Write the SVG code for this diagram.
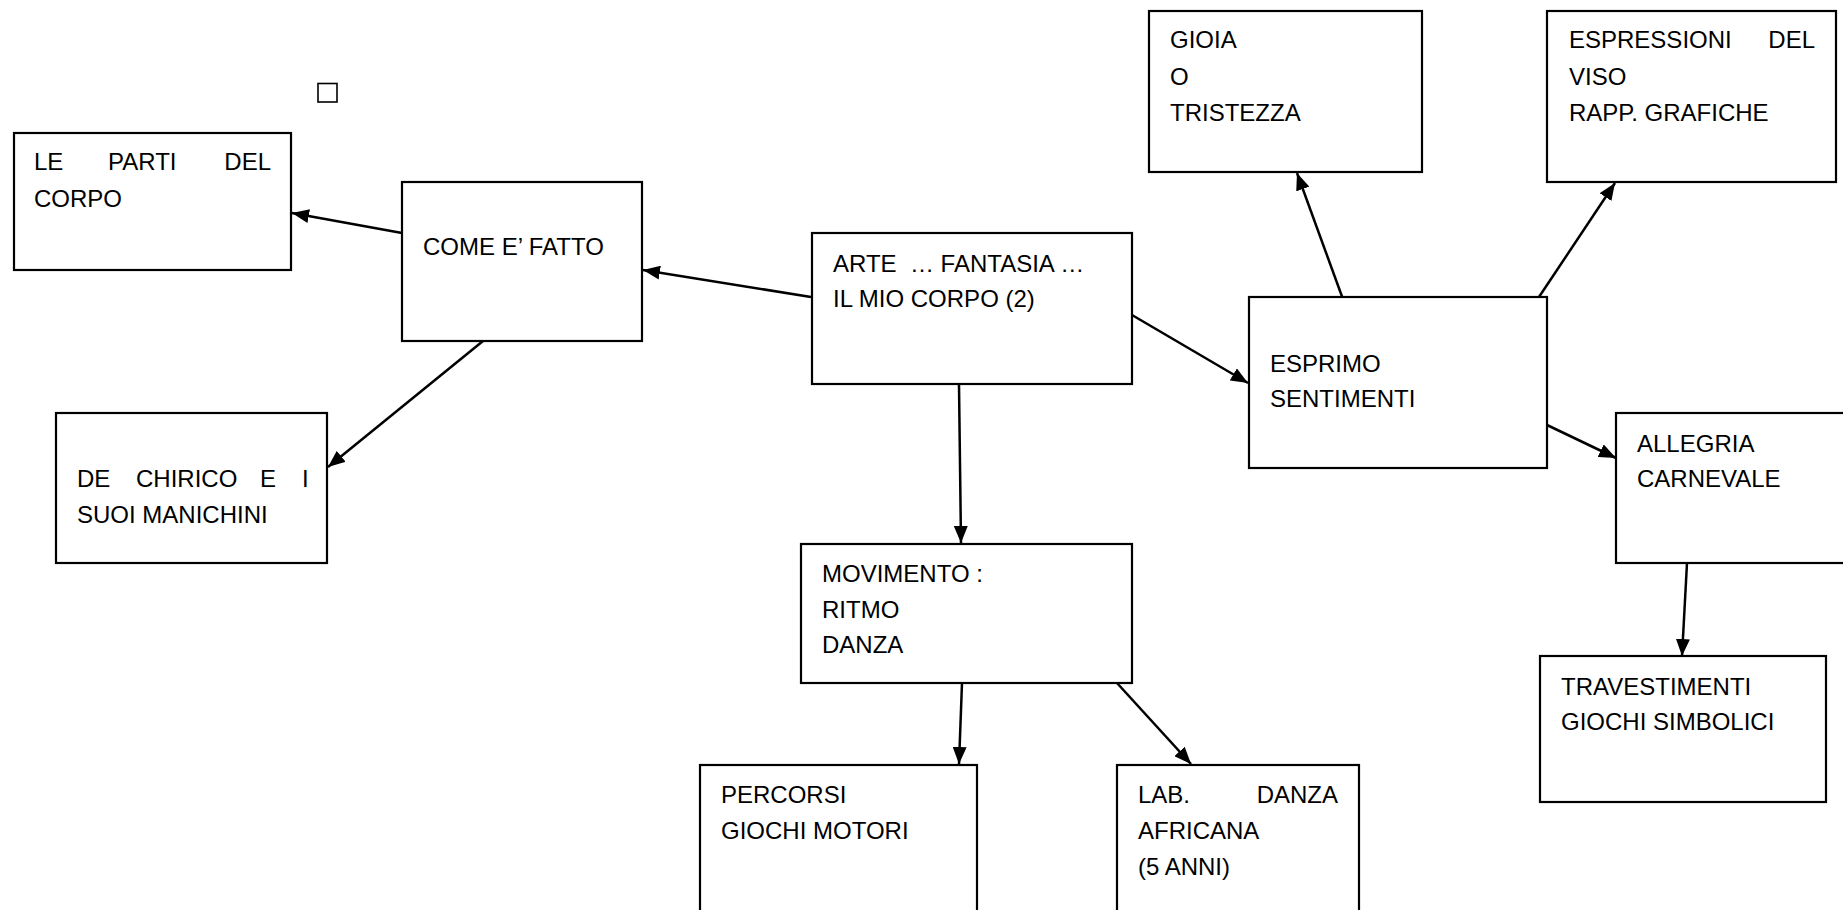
<svg xmlns="http://www.w3.org/2000/svg" width="1843" height="910" viewBox="0 0 1843 910">
<style>
.box{fill:#fff;stroke:#000;stroke-width:2.2}
.t{font-family:"Liberation Sans",Arial,sans-serif;font-size:24px;fill:#000}
.e{text-anchor:end}
.c{stroke:#000;stroke-width:2.5;fill:none;marker-end:url(#ah)}
</style>
<defs>
<marker id="ah" markerUnits="userSpaceOnUse" markerWidth="17" markerHeight="14" refX="17" refY="7" orient="auto">
<path d="M0,0 L17,7 L0,14 z" fill="#000"/>
</marker>
</defs>
<rect x="0" y="0" width="1843" height="910" fill="#fff"/>
<rect id="glyph-box" x="318" y="83.5" width="19" height="18.5" fill="none" stroke="#000" stroke-width="1.6"/>
<g id="connectors">
<line class="c" x1="811" y1="297" x2="643" y2="270"/>
<line class="c" x1="402" y1="233" x2="292" y2="213"/>
<line class="c" x1="483" y1="341" x2="328" y2="467"/>
<line class="c" x1="1132" y1="315" x2="1248" y2="383"/>
<line class="c" x1="1344" y1="302" x2="1297" y2="173"/>
<line class="c" x1="1539" y1="297" x2="1615" y2="183"/>
<line class="c" x1="1547" y1="425" x2="1616" y2="458"/>
<line class="c" x1="1687" y1="563" x2="1682" y2="656"/>
<line class="c" x1="959" y1="385" x2="961" y2="543"/>
<line class="c" x1="962" y1="683" x2="959" y2="764"/>
<line class="c" x1="1117" y1="683" x2="1191" y2="764"/>
</g>
<g id="n-parti">
<rect class="box" x="14" y="133" width="277" height="137"/>
<text class="t" x="34" y="170">LE</text>
<text class="t" x="108" y="170">PARTI</text>
<text class="t e" x="271" y="170">DEL</text>
<text class="t" x="34" y="207">CORPO</text>
</g>
<g id="n-come">
<rect class="box" x="402" y="182" width="240" height="159"/>
<text class="t" x="423" y="255">COME E’ FATTO</text>
</g>
<g id="n-chirico">
<rect class="box" x="56" y="413" width="271" height="150"/>
<text class="t" x="77" y="487">DE</text>
<text class="t" x="136" y="487">CHIRICO</text>
<text class="t" x="260" y="487">E</text>
<text class="t" x="302" y="487">I</text>
<text class="t" x="77" y="523">SUOI MANICHINI</text>
</g>
<g id="n-arte">
<rect class="box" x="812" y="233" width="320" height="151"/>
<text class="t" x="833" y="272" xml:space="preserve">ARTE  … FANTASIA …</text>
<text class="t" x="833" y="307">IL MIO CORPO (2)</text>
</g>
<g id="n-movimento">
<rect class="box" x="801" y="544" width="331" height="139"/>
<text class="t" x="822" y="582">MOVIMENTO :</text>
<text class="t" x="822" y="618">RITMO</text>
<text class="t" x="822" y="653">DANZA</text>
</g>
<g id="n-percorsi">
<rect class="box" x="700" y="765" width="277" height="170"/>
<text class="t" x="721" y="803">PERCORSI</text>
<text class="t" x="721" y="839">GIOCHI MOTORI</text>
</g>
<g id="n-lab">
<rect class="box" x="1117" y="765" width="242" height="170"/>
<text class="t" x="1138" y="803">LAB.</text>
<text class="t e" x="1338" y="803">DANZA</text>
<text class="t" x="1138" y="839">AFRICANA</text>
<text class="t" x="1138" y="875">(5 ANNI)</text>
</g>
<g id="n-esprimo">
<rect class="box" x="1249" y="297" width="298" height="171"/>
<text class="t" x="1270" y="372">ESPRIMO</text>
<text class="t" x="1270" y="407">SENTIMENTI</text>
</g>
<g id="n-gioia">
<rect class="box" x="1149" y="11" width="273" height="161"/>
<text class="t" x="1170" y="48">GIOIA</text>
<text class="t" x="1170" y="85">O</text>
<text class="t" x="1170" y="121">TRISTEZZA</text>
</g>
<g id="n-espressioni">
<rect class="box" x="1547" y="11" width="289" height="171"/>
<text class="t" x="1569" y="48">ESPRESSIONI</text>
<text class="t e" x="1815" y="48">DEL</text>
<text class="t" x="1569" y="85">VISO</text>
<text class="t" x="1569" y="121">RAPP. GRAFICHE</text>
</g>
<g id="n-allegria">
<rect class="box" x="1616" y="413" width="260" height="150"/>
<text class="t" x="1637" y="452">ALLEGRIA</text>
<text class="t" x="1637" y="487">CARNEVALE</text>
</g>
<g id="n-travestimenti">
<rect class="box" x="1540" y="656" width="286" height="146"/>
<text class="t" x="1561" y="695">TRAVESTIMENTI</text>
<text class="t" x="1561" y="730">GIOCHI SIMBOLICI</text>
</g>
</svg>
